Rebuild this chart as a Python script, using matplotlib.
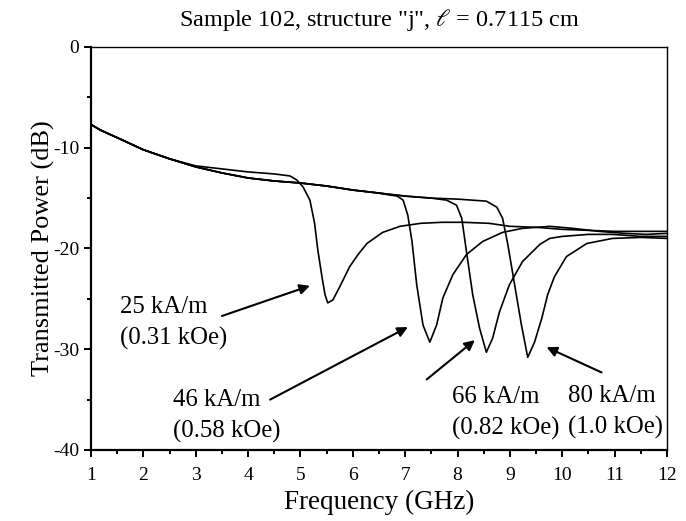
import matplotlib
matplotlib.use("Agg")
import matplotlib.pyplot as plt
from matplotlib.ticker import MultipleLocator

plt.rcParams['font.family'] = ['Liberation Serif', 'DejaVu Serif']
plt.rcParams['mathtext.fontset'] = 'stix'
plt.rcParams['axes.unicode_minus'] = False

# Transmitted power curves (frequency in GHz, power in dB)
freq_25 = [1.0, 1.2, 1.5, 2.0, 2.5, 3.0, 3.5, 4.0, 4.5, 4.8, 4.93, 5.05, 5.18, 5.27,
           5.33, 5.41, 5.47, 5.52, 5.62, 5.75, 5.94, 6.1, 6.27, 6.57, 6.9, 7.3,
           7.7, 8.1, 8.6, 9.0, 9.5, 10.0, 10.5, 11.0, 11.5, 12.0]
db_25 = [-7.7, -8.3, -9.0, -10.2, -11.1, -11.8, -12.1, -12.4, -12.6, -12.8, -13.2,
         -13.9, -15.2, -17.5, -20.1, -22.8, -24.6, -25.4, -25.1, -23.8, -21.8,
         -20.6, -19.5, -18.4, -17.8, -17.5, -17.4, -17.4, -17.5, -17.8, -17.9,
         -18.1, -18.2, -18.3, -18.3, -18.3]

freq_46 = [1.0, 1.2, 1.5, 2.0, 2.5, 3.0, 3.5, 4.0, 4.5, 5.0, 5.5, 6.0, 6.5, 6.71,
           6.85, 6.96, 7.05, 7.13, 7.22, 7.34, 7.47, 7.6, 7.72, 7.91, 8.17, 8.48,
           8.86, 9.24, 9.76, 10.2, 10.7, 11.2, 11.6, 12.0]
db_46 = [-7.7, -8.3, -9.0, -10.2, -11.1, -11.9, -12.5, -13.0, -13.3, -13.5, -13.8,
         -14.2, -14.5, -14.7, -14.8, -15.2, -16.7, -19.3, -23.6, -27.6, -29.3,
         -27.6, -24.9, -22.6, -20.6, -19.3, -18.4, -18.0, -17.8, -18.0, -18.3,
         -18.5, -18.6, -18.5]

freq_66 = [1.0, 1.2, 1.5, 2.0, 2.5, 3.0, 3.5, 4.0, 4.5, 5.0, 5.5, 6.0, 6.5, 7.0,
           7.5, 7.79, 7.98, 8.08, 8.17, 8.29, 8.42, 8.55, 8.67, 8.8, 8.99, 9.24,
           9.57, 9.76, 10.0, 10.5, 10.96, 11.5, 12.0]
db_66 = [-7.7, -8.3, -9.0, -10.2, -11.1, -11.9, -12.5, -13.0, -13.3, -13.5, -13.8,
         -14.2, -14.5, -14.8, -15.0, -15.2, -15.7, -17.0, -20.3, -24.6, -27.9,
         -30.3, -28.9, -26.3, -23.6, -21.3, -19.6, -19.0, -18.8, -18.6, -18.6,
         -18.8, -18.8]

freq_80 = [1.0, 1.2, 1.5, 2.0, 2.5, 3.0, 3.5, 4.0, 4.5, 5.0, 5.5, 6.0, 6.5, 7.0,
           7.5, 8.0, 8.55, 8.75, 8.86, 8.96, 9.09, 9.22, 9.34, 9.47, 9.61, 9.72,
           9.85, 10.08, 10.47, 10.96, 11.5, 12.0]
db_80 = [-7.7, -8.3, -9.0, -10.2, -11.1, -11.9, -12.5, -13.0, -13.3, -13.5, -13.8,
         -14.2, -14.5, -14.8, -15.0, -15.1, -15.3, -15.9, -17.0, -19.6, -23.6,
         -27.6, -30.8, -29.3, -26.9, -24.6, -22.8, -20.8, -19.5, -19.0, -18.9,
         -19.0]

curves = [(freq_25, db_25), (freq_46, db_46), (freq_66, db_66), (freq_80, db_80)]

# label text, text position, arrow tail, arrow head (data coordinates)
labels = ["25 kA/m\n(0.31 kOe)", "46 kA/m\n(0.58 kOe)",
          "66 kA/m\n(0.82 kOe)", "80 kA/m\n(1.0 kOe)"]
label_xy = [(1.55, -27.4), (2.56, -36.6), (7.9, -36.3), (10.1, -36.2)]
arrow_tail = [(3.5, -26.7), (4.42, -35.0), (7.41, -33.0), (10.75, -32.3)]
arrow_head = [(5.18, -23.7), (7.05, -27.8), (8.33, -29.1), (9.7, -29.8)]

fig = plt.figure(figsize=(6.86, 5.21), dpi=100)
ax = fig.add_axes([0.1327, 0.1363, 0.9723 - 0.1327, 0.9098 - 0.1363])

for f, p in curves:
    ax.plot(f, p, color='black', lw=1.2)

for txt, xy, tail, head in zip(labels, label_xy, arrow_tail, arrow_head):
    ax.text(xy[0], xy[1], txt, fontsize=17.8, va='center', ha='left',
            linespacing=1.5)
    ax.annotate('', xy=head, xytext=tail,
                arrowprops=dict(arrowstyle='-|>', color='black', lw=1.5,
                                mutation_scale=15, shrinkA=0, shrinkB=0))

ax.set_xlim(1, 12)
ax.set_ylim(-40, 0)
ax.xaxis.set_major_locator(MultipleLocator(1))
ax.xaxis.set_minor_locator(MultipleLocator(0.5))
ax.yaxis.set_major_locator(MultipleLocator(10))
ax.yaxis.set_minor_locator(MultipleLocator(5))
ax.tick_params(which='both', direction='out', top=False, right=False,
               width=1.4, labelsize=14)
ax.tick_params(which='major', length=5)
ax.tick_params(axis='x', which='major', pad=7)
ax.tick_params(which='minor', length=3)
for s in ax.spines.values():
    s.set_linewidth(1.0)
ax.spines['left'].set_linewidth(1.6)
ax.spines['bottom'].set_linewidth(1.6)

ax.set_xlabel('Frequency (GHz)', fontsize=19.5)
ax.set_ylabel('Transmitted Power (dB)', fontsize=19)
ax.xaxis.set_label_coords(0.5, -0.1)
ax.yaxis.set_label_coords(-0.063, 0.5)
ax.set_title('Sample 102, structure "j", $\\mathit{\\ell}$ = 0.7115 cm',
             fontsize=17.5, pad=15)

fig.savefig('out.png', dpi=100)
